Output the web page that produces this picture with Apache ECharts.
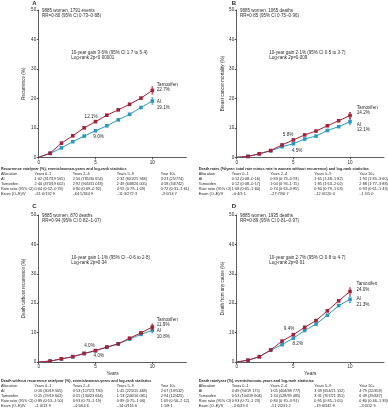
<!DOCTYPE html>
<html><head><meta charset="utf-8">
<script src="https://cdn.jsdelivr.net/npm/echarts@6/dist/echarts.min.js"></script>
<style>html,body{margin:0;padding:0;background:#fff}#c{width:388px;height:408px}</style>
</head><body><div id="c"></div>
<script>
// ---------- DATA ----------
const years = [0,1,2,3,4,5,6,7,8,9,10];
const yTicks = [0,10,20,30,40,50];
const xTicks = [0,5,10];

const A_tam = [0,1.4,4.8,7.3,10.0,12.1,14.3,16.1,18.0,20.1,22.7];
const A_ai  = [0,1.3,3.2,5.3,7.2,9.0,10.7,12.7,14.6,16.9,19.1];
const B_tam = [0,0.3,1.2,2.3,4.2,5.9,7.6,8.9,10.7,12.4,14.2];
const B_ai  = [0,0.3,1.2,2.2,3.6,4.6,6.2,7.2,9.1,10.4,12.1];
const C_tam = [0,0.3,1.1,1.8,2.9,3.9,5.1,6.2,8.1,9.9,11.9];
const C_ai  = [0,0.3,1.0,1.8,2.9,3.8,5.0,6.1,7.8,9.4,10.8];
const D_tam = [0,0.6,1.8,4.1,7.1,9.3,11.8,14.1,17.4,20.8,24.0];
const D_ai  = [0,0.6,1.8,4.0,5.9,8.1,10.7,12.9,15.9,19.2,21.3];

// 95% CI at year 10: [year, low, high]
const A_tamCI = [[10,21.5,23.9]], A_aiCI = [[10,18.0,20.2]];
const B_tamCI = [[10,13.2,15.2]], B_aiCI = [[10,11.2,13.0]];
const C_tamCI = [[10,10.9,12.9]], C_aiCI = [[10,9.9,11.7]];
const D_tamCI = [[10,22.8,25.2]], D_aiCI = [[10,20.2,22.4]];

const panelLetters = ['A','B','C','D'];
const yNames = ['Recurrence (%)','Breast cancer mortality (%)','Death without recurrence (%)','Death from any cause (%)'];
const xNames = ['','','Years','Years'];
const endTam = ['Tamoxifen\n22.7%','Tamoxifen\n14.2%','Tamoxifen\n11.9%','Tamoxifen\n24.0%'];
const endAi  = ['AI\n19.1%','AI\n12.1%','AI\n10.8%','AI\n21.3%'];
const midTam = ['12.1%','5.8%','4.0%','9.4%'];
const midAi  = ['9.0%','4.5%','4.0%','8.2%'];
const infoLine1 = ['9885 women, 1791 events','9885 women, 1065 deaths','9885 women, 870 deaths','9885 women, 1935 deaths'];
const infoLine2 = ['RR=0·80 (95% CI 0·73–0·88)','RR=0·85 (95% CI 0·75–0·96)','RR=0·94 (95% CI 0·82–1·07)','RR=0·89 (95% CI 0·81–0·97)'];
const gainLine1 = ['10-year gain 3·6% (95% CI 1·7 to 5·4)','10-year gain 2·1% (95% CI 0·5 to 3·7)','10-year gain 1·1% (95% CI –0·6 to 2·8)','10-year gain 2·7% (95% CI 0·8 to 4·7)'];
const gainLine2 = ['Log-rank 2p<0·00001','Log-rank 2p=0·009','Log-rank 2p=0·34','Log-rank 2p=0·01'];

const tableTitles = [
 'Recurrence rate/year (%), events/woman-years and log-rank statistics',
 'Death rates (%/year: total rate minus rate in women without recurrence) and log-rank statistics',
 'Death without recurrence rate/year (%), events/woman-years and log-rank statistics',
 'Death rate/year (%), events/woman-years and log-rank statistics'];
const tableCols = ['Allocation','Years 0–1','Years 2–4','Years 5–9','Year 10+'];
const tableRows = ['AI','Tamoxifen','Rate ratio (95% CI)','Exam (O–E)/V'];
const A_table = [
 ['1·62 (317/19 565)','2·56 (785/30 654)','2·32 (601/25 948)','3·23 (25/774)'],
 ['2·40 (470/19 602)','2·92 (905/31 018)','2·49 (648/26 005)','4·58 (34/742)'],
 ['0·64 (0·52–0·78)','0·80 (0·69–0·92)','0·92 (0·79–1·09)','0·72 (0·31–1·61)'],
 ['–61·0/192·9','–64·5/344·9','–11·3/272·3','–3·0/14·7']];
const B_table = [
 ['0·12 (0·08–0·16)','0·83 (0·73–0·93)','1·65 (1·48–1·82)','1·93 (1·85–3·60)'],
 ['0·12 (0·08–0·17)','1·04 (0·93–1·15)','1·85 (1·63–2·02)','2·88 (1·77–3·88)'],
 ['1·08 (0·65–1·60)','0·74 (0·63–0·85)','0·90 (0·79–1·03)','0·93 (0·61–1·43)'],
 ['–0·4/3·1','–27·7/90·7','–12·0/120·4','–1·5/5·0']];
const C_table = [
 ['0·16 (30/19 565)','0·53 (127/23 730)','1·45 (225/15 448)','2·07 (19/532)'],
 ['0·15 (29/19 602)','0·55 (130/23 664)','1·53 (246/16 085)','2·94 (12/425)'],
 ['0·89 (0·53–1·50)','0·93 (0·73–1·19)','0·89 (0·75–1·06)','1·09 (0·56–2·12)'],
 ['–1·0/13·9','–4·5/64·6','–14·0/116·6','1·1/8·1']];
const D_table = [
 ['0·49 (94/19 175)','1·05 (404/38 777)','3·09 (654/21 152)','4·79 (22/459)'],
 ['0·53 (104/19 604)','1·34 (528/39 485)','3·31 (707/21 351)','6·49 (29/447)'],
 ['0·93 (0·71–1·23)','0·80 (0·70–0·91)','0·95 (0·85–1·05)','0·80 (0·46–1·38)'],
 ['–3·6/49·3','–51·2/231·2','–19·6/342·9','–3·0/12·9']];

// ---------- LAYOUT / STYLE ----------
const RED = '#a3213a', TEAL = '#2b98bd', AX = '#333', TXT = '#2a2a2a';
const FONT = 'Liberation Sans';
const grids = [
 {left:38.7, top:10, width:147.7, height:147.3},
 {left:236.7, top:10, width:147.3, height:147.3},
 {left:38.7, top:215, width:147.7, height:147},
 {left:236.7, top:215, width:147.3, height:147}];
const tamSets = [A_tam,B_tam,C_tam,D_tam], aiSets = [A_ai,B_ai,C_ai,D_ai];
const tamCIs = [A_tamCI,B_tamCI,C_tamCI,D_tamCI], aiCIs = [A_aiCI,B_aiCI,C_aiCI,D_aiCI];
const tables = [A_table,B_table,C_table,D_table];
// label offsets per panel
const endTamOff = [[2.7,-3.1],[5,-5.2],[2.7,-4.8],[4.6,-4.4]];
const endAiOff  = [[2.7,3.5],[5,5.5],[2.7,3.7],[4.6,2.4]];
const midTamOff = [[-4.4,0.2],[-5.3,-0.4],[-6,0.2],[-4.3,-0.8]];
const midAiOff  = [[3.1,1.0],[3.7,2.2],[3.3,0.5],[4.4,1.2]];
const yNameGap = [12,11,12,11];

const xAxes = [], yAxes = [], series = [], graphics = [];
function lbl(text, pos, off){
  return {show:true, formatter:text, position:pos, distance:0, offset:off,
    fontSize:4.6, lineHeight:5.8, color:TXT, fontFamily:FONT, align: pos==='right'?'left':'center'};
}
function errSeries(gi, data, color){
  return {type:'custom', xAxisIndex:gi, yAxisIndex:gi, data:data, z:4, silent:true,
    renderItem:(p,api)=>{
      const x=api.value(0), a=api.coord([x,api.value(2)]), b=api.coord([x,api.value(1)]);
      const st={stroke:color, lineWidth:0.8};
      return {type:'group', children:[
        {type:'line', shape:{x1:a[0],y1:a[1],x2:b[0],y2:b[1]}, style:st},
        {type:'line', shape:{x1:a[0]-1,y1:a[1],x2:a[0]+1,y2:a[1]}, style:st},
        {type:'line', shape:{x1:b[0]-1,y1:b[1],x2:b[0]+1,y2:b[1]}, style:st}]};
    }};
}
for (let g=0; g<4; g++){
  xAxes.push({gridIndex:g, type:'value', min:0, max:13, interval:5,
    name:xNames[g], nameLocation:'middle', nameGap:9,
    nameTextStyle:{fontSize:4.8, color:TXT, fontFamily:FONT},
    axisLine:{lineStyle:{color:AX, width:0.8}},
    axisTick:{customValues:xTicks, length:2, lineStyle:{color:AX, width:0.8}},
    axisLabel:{customValues:xTicks, fontSize:4.6, margin:2.5, color:TXT, fontFamily:FONT},
    splitLine:{show:false}});
  yAxes.push({gridIndex:g, type:'value', min:0, max:50, interval:10,
    name:yNames[g], nameLocation:'middle', nameRotate:90, nameGap:yNameGap[g],
    nameTextStyle:{fontSize:4.6, color:TXT, fontFamily:FONT},
    axisLine:{show:true, lineStyle:{color:AX, width:0.8}},
    axisTick:{show:true, length:2, lineStyle:{color:AX, width:0.8}},
    axisLabel:{fontSize:4.6, margin:2.5, color:TXT, fontFamily:FONT},
    splitLine:{show:false}});
  const mk = (vals, endText, endOff, midText, midOff, isTam) => years.map((y,i)=>{
    const item = {value:[y, vals[i]]};
    if (i===10) item.label = lbl(endText, 'right', endOff);
    if (i===5) item.label = lbl(midText, isTam?'top':'bottom', midOff);
    if (i===0) item.symbol = 'none';
    return item;
  });
  series.push({type:'line', xAxisIndex:g, yAxisIndex:g, name:'AI', z:3,
    data: mk(aiSets[g], endAi[g], endAiOff[g], midAi[g], midAiOff[g], false),
    symbol:'rect', symbolSize:3.6, lineStyle:{color:TEAL, width:1},
    itemStyle:{color:TEAL}, animation:false});
  series.push({type:'line', xAxisIndex:g, yAxisIndex:g, name:'Tamoxifen', z:5,
    data: mk(tamSets[g], endTam[g], endTamOff[g], midTam[g], midTamOff[g], true),
    symbol:'rect', symbolSize:3.6, lineStyle:{color:RED, width:1},
    itemStyle:{color:RED}, animation:false});
  series.push(errSeries(g, aiCIs[g], TEAL));
  series.push(errSeries(g, tamCIs[g], RED));

  const gr = grids[g];
  const txt = (x,y,t,fs,bold) => graphics.push({type:'text', x:x, y:y, silent:true,
    style:{text:t, fontSize:fs, fontFamily:FONT, fontWeight:bold?'bold':'normal', fill:TXT, verticalAlign:'middle', align:'left'}});
  // panel letter
  txt(gr.left - (g%2===0?6.5:5), gr.top - (g<2?7:9), panelLetters[g], 6, true);
  // info
  txt(gr.left + 3.3, gr.top + 0.3, infoLine1[g], 4.5);
  txt(gr.left + 3.3, gr.top + 5.8, infoLine2[g], 4.5);
  txt(gr.left + 32.5, gr.top + 42.5, gainLine1[g], 4.5);
  txt(gr.left + 32.5, gr.top + 48, gainLine2[g], 4.5);
  // table
  const tx = g%2===0 ? [1, 34.5, 72.7, 116.8, 160.7] : [198.7, 231.7, 270.2, 314.3, 359.3];
  const ty0 = g<2 ? 168.8 : 380.5;
  txt(tx[0], ty0, tableTitles[g], 3.8, true);
  for (let c=0;c<5;c++) txt(tx[c], ty0+5.2, tableCols[c], 3.8);
  for (let r=0;r<4;r++){
    txt(tx[0], ty0+10.3+r*5.05, tableRows[r], 3.8);
    for (let c=0;c<4;c++) txt(tx[c+1], ty0+10.3+r*5.05, tables[g][r][c], 3.8);
  }
}

const chart = echarts.init(document.getElementById('c'), null, {renderer:'canvas'});
chart.setOption({animation:false, backgroundColor:'#fff', grid:grids, xAxis:xAxes, yAxis:yAxes, series:series, graphic:graphics});
</script></body></html>
